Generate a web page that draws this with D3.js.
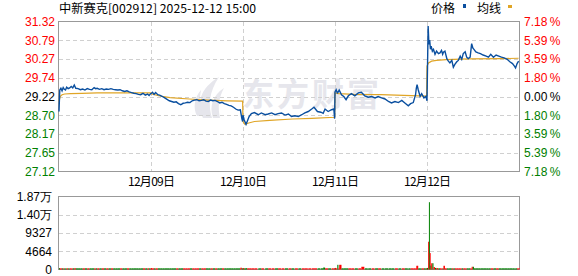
<!DOCTYPE html>
<html lang="zh">
<head>
<meta charset="UTF-8">
<title>中新赛克 分时</title>
<script src="https://cdn.jsdelivr.net/npm/d3@7"></script>
<style>
  body { margin: 0; background: #fff; }
  svg { display: block; }
  text { font-family: "Liberation Sans", Arial, sans-serif; font-size: 12px; }
  .cjk, .cjk text { font-family: "Noto Sans CJK SC", sans-serif; }
  .grid line { stroke: #d0d0d0; stroke-dasharray: 4,3; shape-rendering: crispEdges; }
</style>
</head>
<body>
<svg id="chart" width="578" height="276"></svg>
<script>
const title = '中新赛克[002912] 2025-12-12 15:00';
const dateLabels = ['12月09日', '12月10日', '12月11日', '12月12日'];
const prevClose = 29.22;
const pctTicks = [7.18, 5.39, 3.59, 1.80, 0, -1.80, -3.59, -5.39, -7.18];
const priceLabels = ['31.32', '30.79', '30.27', '29.74', '29.22', '28.70', '28.17', '27.65', '27.12'];
const volMax = 18654;
const volTicks = [0, 4664, 9327, 13991, 18654];
const volLabels = ['0', '4664', '9327', '1.40万', '1.87万'];

// price per day: [minute of session (0-240), price, volume]
const day1 = [[0,28.80,350],[2,29.40,300],[5,29.45,300],[8,29.38,300],[11,29.47,300],[14,29.42,300],[17,29.40,300],[20,29.48,300],[24,29.44,300],[28,29.46,300],[32,29.50,300],[36,29.46,300],[40,29.54,350],[44,29.45,300],[50,29.44,300],[56,29.41,300],[62,29.43,300],[68,29.40,300],[74,29.44,300],[80,29.42,300],[86,29.41,300],[92,29.47,300],[96,29.44,300],[100,29.45,300],[106,29.42,300],[112,29.44,300],[118,29.41,300],[124,29.43,300],[130,29.42,300],[136,29.44,300],[142,29.42,300],[148,29.41,300],[154,29.40,300],[160,29.41,300],[166,29.38,300],[172,29.36,300],[178,29.38,300],[184,29.35,300],[190,29.33,300],[196,29.31,300],[202,29.30,300],[208,29.28,300],[214,29.27,300],[220,29.31,300],[226,29.26,300],[232,29.29,300],[236,29.25,300],[240,29.30,350]];
const day2 = [[0,29.30,350],[4,29.34,300],[8,29.28,300],[12,29.33,300],[18,29.27,300],[24,29.25,300],[30,29.22,300],[36,29.18,300],[42,29.14,300],[48,29.10,300],[54,29.08,300],[60,29.06,300],[66,29.07,300],[72,29.02,300],[78,28.99,300],[84,29.03,300],[90,29.04,300],[96,29.06,300],[102,29.05,300],[108,29.10,300],[114,29.12,300],[120,29.13,300],[126,29.10,300],[132,29.11,300],[138,29.13,300],[144,29.09,300],[150,29.08,300],[156,29.12,300],[162,29.10,300],[168,29.11,300],[174,29.08,300],[180,29.04,300],[186,29.06,300],[192,29.02,300],[198,29.00,300],[204,28.97,300],[210,28.96,300],[216,28.92,300],[222,28.87,300],[228,28.84,300],[234,28.85,450],[238,28.60,300],[240,28.52,300]];
const day3 = [[0,28.70,350],[3,28.57,300],[8,28.44,350],[11,28.52,300],[16,28.66,300],[22,28.74,300],[30,28.77,300],[40,28.71,300],[48,28.76,300],[58,28.71,300],[66,28.73,300],[75,28.76,300],[84,28.71,300],[92,28.74,300],[101,28.76,300],[110,28.70,300],[119,28.73,300],[127,28.66,300],[136,28.68,300],[145,28.66,300],[154,28.71,300],[162,28.76,300],[171,28.80,300],[180,28.87,300],[186,28.92,300],[195,28.80,300],[204,28.78,300],[210,28.75,500],[215,28.87,300],[223,28.80,300],[232,28.85,300],[238,28.87,300],[240,28.60,350]];
const day4 = [[0,29.35,400],[3,29.41,300],[6,29.32,1200],[9,29.36,300],[11,29.40,1200],[17,29.27,300],[23,29.22,300],[29,29.13,300],[35,29.24,300],[43,29.30,300],[52,29.24,300],[61,29.32,300],[69,29.34,700],[78,29.24,300],[87,29.20,300],[96,29.22,300],[105,29.18,300],[113,29.22,300],[122,29.18,300],[131,29.15,300],[140,29.08,300],[148,29.04,300],[157,29.08,300],[166,29.05,300],[175,29.11,300],[183,29.04,300],[192,28.96,300],[198,29.02,300],[205,29.05,300],[211,29.27,350],[213,29.45,950],[215,29.55,950],[218,29.41,300],[223,29.22,300],[227,29.30,300],[233,29.18,300],[238,29.22,300],[240,29.15,350]];
const day5 = [[0,29.10,400],[3,31.19,7100],[5,30.68,17200],[7,30.80,4200],[9,30.54,1000],[11,30.63,1600],[14,30.49,1600],[17,30.54,600],[21,30.40,400],[25,30.49,350],[30,30.42,300],[34,30.44,300],[38,30.51,300],[41,30.40,300],[43,30.46,950],[47,30.49,300],[52,30.28,300],[56,30.21,300],[60,30.16,300],[65,30.23,300],[69,30.04,300],[73,30.12,300],[78,30.19,300],[82,30.23,300],[87,30.35,300],[91,30.26,300],[95,30.42,300],[100,30.47,300],[104,30.32,300],[108,30.28,300],[113,30.32,300],[117,30.70,700],[120,30.58,700],[123,30.54,300],[128,30.47,300],[134,30.44,300],[140,30.42,300],[147,30.38,300],[155,30.35,300],[161,30.32,300],[167,30.40,300],[174,30.32,300],[181,30.38,300],[188,30.35,300],[195,30.32,300],[202,30.30,300],[210,30.26,300],[217,30.19,300],[224,30.14,300],[229,30.07,300],[232,30.02,300],[236,30.14,300],[240,30.21,350]];

// average price per day: [minute, price]
const avg1 = [[0,29.08],[3,29.22],[8,29.27],[15,29.29],[30,29.30],[60,29.31],[100,29.32],[240,29.32]];
const avg2 = [[0,29.30],[20,29.24],[50,29.19],[100,29.15],[150,29.12],[200,29.10],[240,29.09]];
const avg3 = [[0,28.52],[5,28.44],[15,28.48],[30,28.52],[70,28.55],[130,28.59],[180,28.61],[240,28.64]];
const avg4 = [[0,29.32],[10,29.30],[50,29.28],[120,29.27],[180,29.25],[240,29.23]];
const avg5 = [[0,30.07],[4,30.16],[12,30.21],[25,30.23],[50,30.25],[110,30.27],[200,30.28],[240,30.29]];

const perDay = 241;
const days = [day1, day2, day3, day4, day5];
const avgs = [avg1, avg2, avg3, avg4, avg5];
const ticks = days.flatMap((d, i) => d.map(p => ({ t: i * perDay + p[0], price: p[1], vol: p[2] })));
const avgLine = avgs.flatMap((d, i) => d.map(p => ({ t: i * perDay + p[0], price: p[1] })));

const left = 59, right = 519;
const svg = d3.select('#chart');

const x = d3.scaleLinear().domain([0, perDay * 5]).range([left, right]);
const y = d3.scaleLinear().domain([prevClose * (1 - 0.0718), prevClose * (1 + 0.0718)]).range([171.5, 21.5]);
const yv = d3.scaleLinear().domain([0, volMax]).range([269.5, 196.5]);
const priceTicks = pctTicks.map(p => prevClose * (1 + p / 100));
const sideColor = p => p > 0 ? '#ff0000' : (p < 0 ? '#008000' : '#000');

// watermark
const wm = svg.append('g').attr('fill', '#e6e6ec');
wm.append('path').attr('d', 'M203 118 C196 104 200 88 219 77 C209 92 208 105 212 118 Z');
wm.append('path').attr('d', 'M213 118 C209 106 213 95 224 88 C218 99 218 108 220 118 Z');
wm.append('path').attr('d', 'M197 116 C193 108 194 98 201 90 C199 100 200 108 203 116 Z');
wm.append('text').attr('class', 'cjk').attr('x', 242).attr('y', 106)
  .style('font-size', '32px').style('font-weight', 700).style('letter-spacing', '3px')
  .text('东方财富');

// grids
const grid = svg.append('g').attr('class', 'grid');
grid.selectAll('line.h').data(priceTicks.slice(1, -1)).join('line')
  .attr('x1', left).attr('x2', right)
  .attr('y1', d => Math.round(y(d)) + 0.5).attr('y2', d => Math.round(y(d)) + 0.5);
grid.selectAll('line.v').data([1, 2, 3, 4]).join('line')
  .attr('class', 'v')
  .attr('x1', d => Math.round(x(d * perDay)) + 0.5).attr('x2', d => Math.round(x(d * perDay)) + 0.5)
  .attr('y1', 21.5).attr('y2', 171.5);
grid.selectAll('line.vh').data(volTicks.slice(1, -1)).join('line')
  .attr('class', 'vh')
  .attr('x1', left).attr('x2', right)
  .attr('y1', d => Math.round(yv(d)) + 0.5).attr('y2', d => Math.round(yv(d)) + 0.5);

// frames
svg.append('rect').attr('x', left - 0.5).attr('y', 21.5).attr('width', right - left + 1).attr('height', 150)
  .attr('fill', 'none').attr('stroke', '#999');
svg.append('rect').attr('x', left - 0.5).attr('y', 196.5).attr('width', right - left + 1).attr('height', 73)
  .attr('fill', 'none').attr('stroke', '#999');

// price axes
const axL = svg.append('g').attr('transform', `translate(${left},0)`)
  .call(d3.axisLeft(y).tickValues(priceTicks).tickFormat((d, i) => priceLabels[i]).tickSize(0).tickPadding(4));
axL.select('.domain').remove();
axL.selectAll('text').attr('fill', (d, i) => sideColor(pctTicks[i]));

const axR = svg.append('g').attr('transform', `translate(${right},0)`)
  .call(d3.axisRight(y).tickValues(priceTicks).tickFormat((d, i) => Math.abs(pctTicks[i]).toFixed(2) + '\u2009%').tickSize(0).tickPadding(5));
axR.select('.domain').remove();
axR.selectAll('text').attr('fill', (d, i) => sideColor(pctTicks[i]));

const axB = svg.append('g').attr('class', 'cjk').attr('transform', 'translate(0,171.5)')
  .call(d3.axisBottom(x).tickValues([1, 2, 3, 4].map(d => d * perDay)).tickFormat((d, i) => dateLabels[i]).tickSize(0).tickPadding(6));
axB.select('.domain').remove();
axB.selectAll('text').attr('fill', '#000').attr('textLength', 47);

const axV = svg.append('g').attr('class', 'cjkv').attr('transform', `translate(${left},0)`)
  .call(d3.axisLeft(yv).tickValues(volTicks).tickFormat((d, i) => volLabels[i]).tickSize(0).tickPadding(7));
axV.select('.domain').remove();
axV.selectAll('text').attr('fill', '#000');

// volume bars
svg.append('g').selectAll('rect').data(ticks).join('rect')
  .attr('x', d => x(d.t))
  .attr('width', (d, i) => {
    const nx = i < ticks.length - 1 ? x(ticks[i + 1].t) : right;
    return Math.max(1, Math.min(3, nx - x(d.t)));
  })
  .attr('y', d => yv(d.vol))
  .attr('height', d => yv(0) - yv(d.vol))
  .attr('fill', (d, i) => {
    const prev = i === 0 ? prevClose : ticks[i - 1].price;
    return d.price >= prev ? '#ff0000' : '#008000';
  });

// average line and price line
svg.append('path').datum(avgLine)
  .attr('fill', 'none').attr('stroke', '#e0a526').attr('stroke-width', 1.2)
  .attr('d', d3.line().x(d => x(d.t)).y(d => y(d.price)));
svg.append('path').datum(ticks)
  .attr('fill', 'none').attr('stroke', '#0a4f9f').attr('stroke-width', 1.4)
  .attr('d', d3.line().x(d => x(d.t)).y(d => y(d.price)));

// title and legend
svg.append('text').attr('class', 'cjk').attr('x', 59).attr('y', 13)
  .attr('textLength', 197).attr('lengthAdjust', 'spacingAndGlyphs').text(title);
svg.append('text').attr('class', 'cjk').attr('x', 431).attr('y', 13).text('价格');
svg.append('rect').attr('x', 463).attr('y', 4).attr('width', 3).attr('height', 4).attr('fill', '#0a4f9f');
svg.append('text').attr('class', 'cjk').attr('x', 477).attr('y', 13).text('均线');
svg.append('rect').attr('x', 508).attr('y', 5).attr('width', 4).attr('height', 3).attr('fill', '#e0a526');
</script>
</body>
</html>
